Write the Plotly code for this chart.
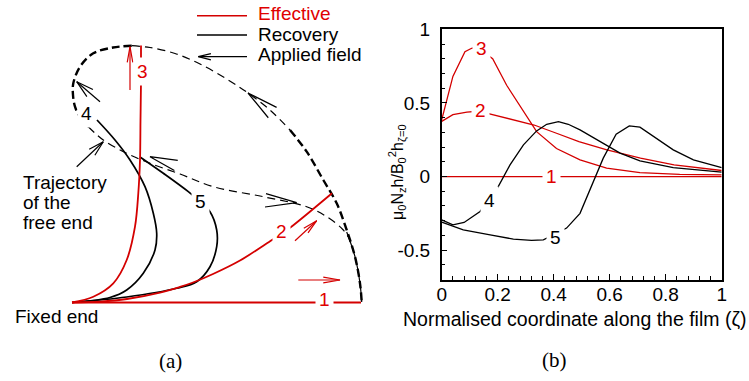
import numpy as np
import plotly.graph_objects as go

W, H = 749, 381

# ---------------- panel (b): data ----------------
zeta_1 = [0.0, 1.0]
nz_1 = [0.0, 0.0]

zeta_2 = [0.0, 0.04, 0.09, 0.14, 0.16, 0.23, 0.33, 0.41, 0.49, 0.59, 0.71, 0.83, 1.0]
nz_2 = [0.375, 0.42, 0.437, 0.445, 0.43, 0.396, 0.35, 0.294, 0.237, 0.181, 0.125, 0.079, 0.041]

zeta_3 = [0.0, 0.04, 0.083, 0.107, 0.125, 0.182, 0.232, 0.292, 0.339, 0.41, 0.494, 0.589, 0.708, 0.85, 1.0]
nz_3 = [0.385, 0.68, 0.848, 0.871, 0.88, 0.80, 0.62, 0.44, 0.305, 0.19, 0.113, 0.057, 0.027, 0.015, 0.011]

zeta_4 = [0.0, 0.04, 0.08, 0.137, 0.168, 0.199, 0.244, 0.292, 0.339, 0.375, 0.417, 0.452, 0.494,
          0.565, 0.637, 0.708, 0.827, 1.0]
nz_4 = [-0.294, -0.328, -0.312, -0.237, -0.16, -0.079, 0.079, 0.215, 0.31, 0.355, 0.373, 0.355, 0.317,
        0.237, 0.159, 0.106, 0.061, 0.03]

zeta_5 = [0.0, 0.077, 0.173, 0.256, 0.321, 0.363, 0.405, 0.446, 0.494, 0.524, 0.548, 0.577, 0.623,
          0.67, 0.708, 0.768, 0.827, 0.899, 1.0]
nz_5 = [-0.31, -0.362, -0.396, -0.425, -0.434, -0.43, -0.39, -0.35, -0.25, -0.113, 0.0, 0.125, 0.288,
        0.344, 0.335, 0.26, 0.181, 0.113, 0.061]

b_labels = ["1", "2", "3", "4", "5"]
b_label_zeta = [0.393, 0.14, 0.143, 0.169, 0.405]
b_label_nz = [0.0, 0.446, 0.871, -0.165, -0.414]
b_label_red = [True, True, True, False, False]

x_tickvals = [0, 0.2, 0.4, 0.6, 0.8, 1]
x_ticktext = ["0", "0.2", "0.4", "0.6", "0.8", "1"]
y_tickvals = [-0.5, 0, 0.5, 1]
y_ticktext = ["-0.5", "0", "0.5", "1"]

# ---------------- panel (a): schematic (pixel-space coordinates) ----------------
eff1_x = [72, 361]
eff1_y = [302.5, 302.5]
eff2_x = [72, 100, 127, 160, 180, 193, 213, 240, 272, 282, 293, 332]
eff2_y = [302.5, 301.6, 299, 292.6, 286.9, 282.5, 274, 260.5, 240, 233.5, 225.5, 193.3]
eff3_x = [72, 93.3, 113.3, 126.7, 135, 138.3, 140, 140.5, 141, 141, 141]
eff3_y = [302.5, 296.7, 283.3, 260, 226.7, 193.3, 160, 120, 82, 60, 45.5]

rec4_x = [72, 110, 126.7, 143.3, 155, 156.7, 153.3, 145, 130, 115, 97]
rec4_y = [302.5, 297.5, 290, 273.3, 250, 233.3, 213.3, 186.7, 160, 140, 120]
rec5_x = [72, 126.7, 176.7, 196.7, 210, 216.7, 216.7, 210, 200, 188.3, 163.3, 140]
rec5_y = [302.5, 297, 288.3, 281.7, 266.7, 246.7, 230, 211.7, 201.7, 191.7, 173.3, 157]

traj_top_x = [131.7, 150, 175, 200, 226.7, 248, 270, 290]
traj_top_y = [45.7, 47.5, 53.5, 64, 79, 93, 110, 130]
traj_right_x = [290, 306.7, 323.3, 336.7, 346.7, 355, 360, 361.7]
traj_right_y = [130, 151.7, 180, 203.3, 230, 256.7, 283.3, 302]
traj_left_x = [131.7, 113, 93.3, 80, 73.3, 73, 75, 80, 88.3]
traj_left_y = [45.7, 47.5, 53.3, 66.7, 83.3, 95, 106.7, 117, 126.7]
traj_ret_x = [88.3, 103.3, 126.7, 150, 180, 213.3, 263.3, 306.7, 326.7, 343.3, 350]
traj_ret_y = [126.7, 140, 153.3, 163.3, 174, 186.7, 196.7, 206.7, 216.7, 230, 240]
traj_solid_x = [346.7, 355, 360, 361.7]
traj_solid_y = [232, 256.7, 283.3, 302]

black_arrow_tail = [(247, 56.7), (273, 113), (100, 101.7), (76.7, 166.7), (180, 166.7), (265, 200.3)]
black_arrow_tip = [(198.3, 56.7), (248, 93), (76.7, 81.7), (103.3, 141.7), (150, 156.7), (296.7, 202.7)]
red_arrow_tail = [(298.3, 280), (295, 240.7), (130, 90)]
red_arrow_tip = [(340, 280), (316.7, 220.7), (130, 46.7)]

a_labels = ["1", "2", "3", "4", "5"]
a_label_x = [324.2, 281.7, 142.7, 86.7, 200]
a_label_y = [299.5, 231.7, 71.7, 113.3, 201.7]
a_label_red = [True, True, True, False, False]

legend_names = ["Effective", "Recovery", "Applied field"]

# ---------------- styles ----------------
RED = "#d40000"
RED_TXT = "#e00000"
SANS = "Liberation Sans, Arial, Helvetica, sans-serif"
SERIF = "Liberation Serif, Times New Roman, serif"
black_head = [(13, 14, True), (32, 12, False), (18, 15, True), (16, 15, True), (28, 11, False), (32, 12, False)]
red_head = [(17, 10, True), (15, 12, True), (16, 10, True)]


def arrow_paths(tails, tips, styles):
    xs, ys = [], []
    for tail, tip, (ln, ang, shaft) in zip(tails, tips, styles):
        t = np.array(tail, float)
        p = np.array(tip, float)
        d = t - p
        d /= np.linalg.norm(d)
        a = np.radians(ang)
        arms = []
        for s in (1, -1):
            c, si = np.cos(s * a), np.sin(s * a)
            r = np.array([c * d[0] - si * d[1], si * d[0] + c * d[1]])
            arms.append(p + ln * r)
        xs += [arms[0][0], p[0], arms[1][0], None]
        ys += [arms[0][1], p[1], arms[1][1], None]
        if shaft:
            xs += [t[0], p[0], None]
            ys += [t[1], p[1], None]
    return xs, ys


def paper(px, py):
    return px / W, 1 - py / H


fig = go.Figure()

for zx, zy, col in [(zeta_1, nz_1, RED), (zeta_2, nz_2, RED), (zeta_3, nz_3, RED),
                    (zeta_4, nz_4, "black"), (zeta_5, nz_5, "black")]:
    fig.add_trace(go.Scatter(x=zx, y=zy, mode="lines", line=dict(color=col, width=1.3),
                             xaxis="x", yaxis="y", showlegend=False, hoverinfo="skip"))


def add_a(x, y, color, width, dash=None, shape="spline"):
    fig.add_trace(go.Scatter(x=x, y=y, mode="lines",
                             line=dict(color=color, width=width, dash=dash, shape=shape),
                             xaxis="x2", yaxis="y2", showlegend=False, hoverinfo="skip"))


add_a(traj_top_x, traj_top_y, "black", 1.2, "8px,5px")
add_a(traj_right_x, traj_right_y, "black", 2.4, "8px,4px")
add_a(traj_left_x, traj_left_y, "black", 2.4, "8px,4px")
add_a(traj_ret_x, traj_ret_y, "black", 1.2, "8px,5px")
add_a(traj_solid_x, traj_solid_y, "black", 1.2)
add_a(rec4_x, rec4_y, "black", 1.7)
add_a(rec5_x, rec5_y, "black", 1.7)
add_a(eff1_x, eff1_y, RED, 2, shape="linear")
add_a(eff2_x, eff2_y, RED, 1.8)
add_a(eff3_x, eff3_y, RED, 1.8)

bx, by = arrow_paths(black_arrow_tail, black_arrow_tip, black_head)
add_a(bx, by, "black", 1.2, shape="linear")
rx, ry = arrow_paths(red_arrow_tail, red_arrow_tip, red_head)
add_a(rx, ry, RED, 1.2, shape="linear")

add_a([197, 247], [15.7, 15.7], RED, 1.6, shape="linear")
add_a([197, 247], [35, 35], "black", 1.6, shape="linear")

ann = []
for t, zx, zy, red in zip(b_labels, b_label_zeta, b_label_nz, b_label_red):
    ann.append(dict(x=zx, y=zy, xref="x", yref="y", text=t, showarrow=False,
                    font=dict(family=SANS, size=19, color=RED_TXT if red else "black"),
                    bgcolor="white", borderpad=3, xanchor="center", yanchor="middle"))
for t, px, py, red in zip(a_labels, a_label_x, a_label_y, a_label_red):
    X, Y = paper(px, py)
    ann.append(dict(x=X, y=Y, xref="paper", yref="paper", text=t, showarrow=False,
                    font=dict(family=SANS, size=19, color=RED_TXT if red else "black"),
                    bgcolor="white", borderpad=3, xanchor="center", yanchor="middle"))


def text(px, py, s, size=19, color="black", xanchor="left", family=SANS, angle=0):
    X, Y = paper(px, py)
    ann.append(dict(x=X, y=Y, xref="paper", yref="paper", text=s, showarrow=False,
                    font=dict(family=family, size=size, color=color), xanchor=xanchor,
                    yanchor="middle", textangle=angle))


text(256, 14, legend_names[0], color=RED_TXT)
text(256, 34, legend_names[1])
text(256, 54.5, legend_names[2])
text(20.7, 182, "Trajectory")
text(20.7, 202, "of the")
text(20.7, 222, "free end")
text(13, 316, "Fixed end")
text(170, 361, "(a)", size=21, family=SERIF, xanchor="center")
text(554, 360, "(b)", size=21, family=SERIF, xanchor="center")
text(575, 318.5, "Normalised coordinate along the film (ζ)", size=19.5, xanchor="center")
text(397, 172, "μ<sub>0</sub>N<sub>z</sub>h/B<sub>0</sub><sup>2</sup>h<sub>ζ=0</sub>",
     size=16, xanchor="center", angle=-90)

fig.update_layout(
    width=W, height=H, margin=dict(l=0, r=0, t=0, b=0, pad=0), autosize=False,
    paper_bgcolor="white", plot_bgcolor="rgba(0,0,0,0)",
    annotations=ann,
    xaxis=dict(domain=[441.7 / W, 721.7 / W], range=[0, 1], tickvals=x_tickvals, ticktext=x_ticktext,
               ticks="inside", ticklen=6, tickwidth=1, tickcolor="black", automargin=False,
               minor=dict(ticks="inside", ticklen=3.5, dtick=0.04, tick0=0, tickcolor="black", showgrid=False),
               showline=True, linewidth=1.5, linecolor="black", mirror=True,
               showgrid=False, zeroline=False, ticklabelstandoff=-3,
               tickfont=dict(family=SANS, size=19, color="black")),
    yaxis=dict(domain=[1 - 279.6 / H, 1 - 29.3 / H], range=[-0.7, 1], tickvals=y_tickvals, ticktext=y_ticktext,
               ticks="inside", ticklen=6, tickwidth=1, tickcolor="black", automargin=False,
               minor=dict(ticks="inside", ticklen=3.5, dtick=0.1, tick0=0, tickcolor="black", showgrid=False),
               showline=True, linewidth=1.5, linecolor="black", mirror=True,
               showgrid=False, zeroline=False, ticklabelstandoff=6,
               tickfont=dict(family=SANS, size=19, color="black")),
    xaxis2=dict(domain=[0, 0.5], range=[0, W / 2], visible=False, fixedrange=True, automargin=False),
    yaxis2=dict(domain=[0, 1], range=[H, 0], visible=False, fixedrange=True, automargin=False),
)

fig.write_html("out.html")
